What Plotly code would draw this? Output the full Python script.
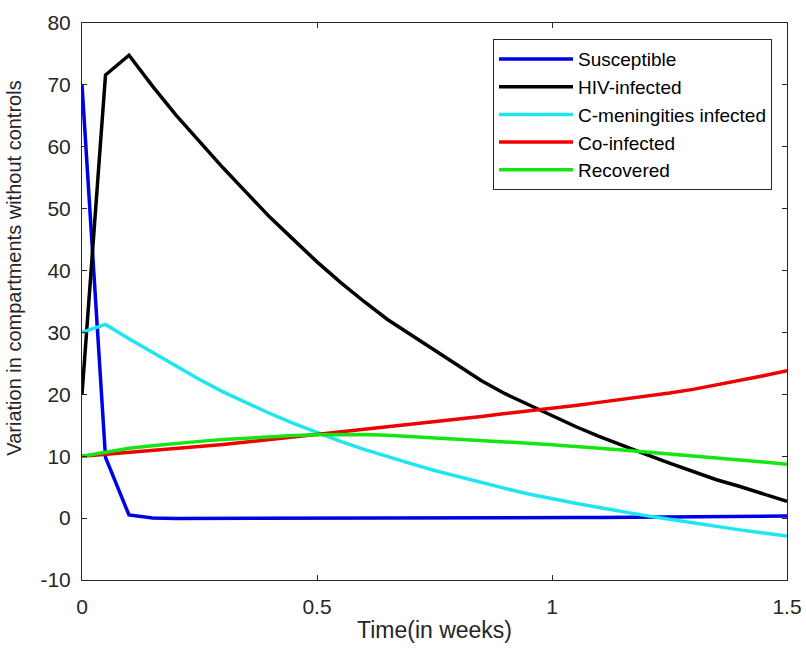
import plotly.graph_objects as go

t = [round(i * 0.05, 2) for i in range(31)]

susceptible = [70, 9.8, 0.5, 0.0, -0.05, -0.05, -0.05, -0.05, -0.05, -0.05, -0.05,
               -0.04, -0.03, -0.02, -0.01, 0.0, 0.01, 0.02, 0.04, 0.05, 0.07,
               0.08, 0.1, 0.12, 0.14, 0.17, 0.2, 0.23, 0.27, 0.31, 0.35]
hiv = [20, 71.6, 74.8, 69.8, 65.1, 60.8, 56.6, 52.6, 48.6, 45.0, 41.4,
       38.1, 35.0, 32.1, 29.6, 27.1, 24.6, 22.2, 20.1, 18.3, 16.5,
       14.8, 13.2, 11.7, 10.3, 8.9, 7.5, 6.2, 5.1, 3.9, 2.7]
cmen = [30, 31.3, 29.0, 26.8, 24.6, 22.4, 20.4, 18.6, 16.9, 15.3, 13.8,
        12.4, 11.1, 9.9, 8.8, 7.7, 6.7, 5.7, 4.8, 3.9, 3.1,
        2.4, 1.7, 1.0, 0.4, -0.2, -0.8, -1.3, -1.9, -2.4, -2.9]
coinf = [10, 10.3, 10.6, 10.9, 11.2, 11.6, 11.9, 12.3, 12.7, 13.1, 13.5,
         13.9, 14.3, 14.7, 15.1, 15.5, 16.0, 16.4, 16.9, 17.3, 17.7,
         18.2, 18.7, 19.2, 19.6, 20.2, 20.8, 21.5, 22.2, 23.0, 23.8]
recovered = [10, 10.7, 11.3, 11.7, 12.1, 12.4, 12.7, 12.95, 13.15, 13.35, 13.45,
             13.5, 13.5, 13.4, 13.2, 13.0, 12.8, 12.6, 12.35, 12.1, 11.85,
             11.6, 11.3, 11.0, 10.7, 10.4, 10.1, 9.75, 9.4, 9.05, 8.7]

names = ["Susceptible", "HIV-infected", "C-meningities infected", "Co-infected", "Recovered"]
colors = ["#0000e6", "#000000", "#1ee6f0", "#f00000", "#14e614"]
series = [susceptible, hiv, cmen, coinf, recovered]

x_ticks = [0, 0.5, 1, 1.5]
x_tick_labels = ["0", "0.5", "1", "1.5"]
y_ticks = list(range(-10, 81, 10))
y_tick_labels = [str(v) for v in y_ticks]

FONT = "Liberation Sans, Arial, sans-serif"

fig = go.Figure()
for n, c, s in zip(names, colors, series):
    fig.add_trace(go.Scatter(x=t, y=s, mode="lines", name=n,
                             line=dict(color=c, width=3.5)))

axis_common = dict(showline=True, linecolor="#262626", linewidth=1, mirror="allticks",
                   ticks="inside", ticklen=5, tickcolor="#262626", showgrid=False,
                   zeroline=False, automargin=False,
                   tickfont=dict(family=FONT, size=21, color="#262626"))

fig.update_layout(
    width=806, height=648,
    margin=dict(l=82, r=19, t=23, b=68),
    paper_bgcolor="white", plot_bgcolor="white",
    font=dict(family=FONT, color="#262626"),
    xaxis=dict(range=[0, 1.5], tickvals=x_ticks, ticktext=x_tick_labels,
               ticklabelstandoff=8,
               title=dict(text="Time(in weeks)", font=dict(size=23, color="#262626"), standoff=4),
               **axis_common),
    yaxis=dict(range=[-10, 80], tickvals=y_ticks, ticktext=y_tick_labels, ticklabelstandoff=6,
               **axis_common),
    legend=dict(x=0.583, y=0.971, xanchor="left", yanchor="top",
                bordercolor="#262626", borderwidth=1, bgcolor="white",
                font=dict(size=19, color="#000000", family=FONT), tracegroupgap=0,
                itemwidth=74),
    annotations=[dict(text="Variation in compartments without controls",
                      xref="paper", yref="paper", x=-0.097, y=0.56,
                      xanchor="center", yanchor="middle", textangle=-90,
                      showarrow=False, font=dict(size=20, color="#262626", family=FONT))],
    showlegend=True,
)

fig.write_html("out.html")
